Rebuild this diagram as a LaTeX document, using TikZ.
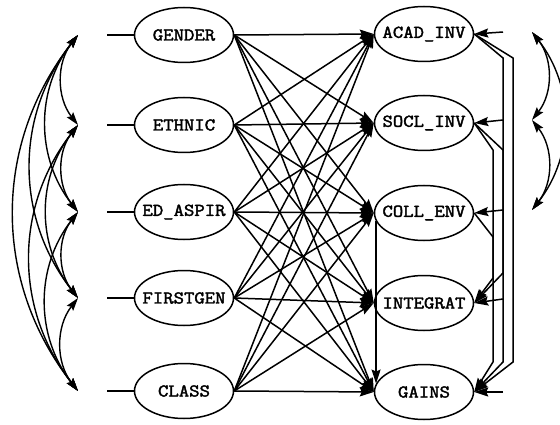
\documentclass[tikz,border=0pt]{standalone}
\usepackage{fontspec}
\newfontfamily\varfont[FakeBold=2.2,FakeStretch=1.12]{Latin Modern Mono}
\newcommand\vlabel[1]{\makebox[0pt]{#1}}
\usetikzlibrary{arrows.meta,shapes.geometric}
\begin{document}
\begin{tikzpicture}[x=1pt,y=-1pt,
  var/.style={ellipse, draw, line width=1.5pt, minimum width=99pt, minimum height=55pt, inner sep=0pt,
    font=\varfont\fontsize{18}{18}\selectfont},
  pth/.style={line width=1.5pt, -{Stealth[length=14pt,width=9pt,inset=2pt]}},
  cov/.style={line width=1.4pt, {Stealth[length=13pt,width=8pt,inset=2pt]}-{Stealth[length=13pt,width=8pt,inset=2pt]}},
  plainln/.style={line width=1.5pt}]
\useasboundingbox (0,0) rectangle (560,425);
% exogenous
\node[var] (gender) at (184,35) {\vlabel{GENDER}};
\node[var] (ethnic) at (184,125) {\vlabel{ETHNIC}};
\node[var] (edaspir) at (184,212) {\vlabel{ED\_ASPIR}};
\node[var] (firstgen) at (184,298) {\vlabel{FIRSTGEN}};
\node[var] (class) at (184,391) {\vlabel{CLASS}};
% endogenous
\node[var] (acad) at (424,34) {\vlabel{ACAD\_INV}};
\node[var] (socl) at (424,123) {\vlabel{SOCL\_INV}};
\node[var] (coll) at (424,213) {\vlabel{COLL\_ENV}};
\node[var] (integ) at (424,303) {\vlabel{INTEGRAT}};
\node[var] (gains) at (424,392) {\vlabel{GAINS}};
% left stubs and covariance tips
\foreach \n/\y in {gender/35,ethnic/125,edaspir/212,firstgen/298,class/391}{
  \coordinate (s\n) at (107,\y);
  \coordinate (c\n) at (78,\y);
  \draw[plainln] (s\n) -- (\n.west);
}
\foreach \a/\b in {gender/ethnic,gender/edaspir,gender/firstgen,gender/class,
  ethnic/edaspir,ethnic/firstgen,ethnic/class,edaspir/firstgen,edaspir/class,firstgen/class}
  \draw[cov] (c\a) to[bend right=38] (c\b);
% paths exogenous -> endogenous
\foreach \s in {gender,ethnic,edaspir,firstgen,class}
  \foreach \t in {acad,socl,coll,integ,gains}
    \draw[pth] (\s.east) -- (\t.west);
% residual arrows
\foreach \n/\y in {acad/32,socl/120,coll/210,integ/299,gains/392}{
  \coordinate (r\n) at (503,\y);
  \draw[pth] (r\n) -- (\n.east);
}
% residual covariances
\coordinate (qacad) at (532,32);
\coordinate (qsocl) at (532,120);
\coordinate (qcoll) at (532,210);
\draw[cov] (qacad) to[bend left=38] (qsocl);
\draw[cov] (qsocl) to[bend left=38] (qcoll);
\draw[cov] (qacad) to[bend left=38] (qcoll);
% paths among endogenous
\draw[pth] (acad.east) -- (503,58) -- (503,273) -- (integ.east);
\draw[pth] (acad.east) -- (513,58) -- (513,362) -- (gains.east);
\draw[pth] (socl.east) -- (493,150) -- (493,278) -- (integ.east);
\draw[pth] (socl.east) -- (503,150) -- (503,362) -- (gains.east);
\draw[pth] (coll.east) -- (493,237) -- (493,362) -- (gains.east);
\draw[pth] (coll.190) -- (gains.170);
\end{tikzpicture}
\end{document}
